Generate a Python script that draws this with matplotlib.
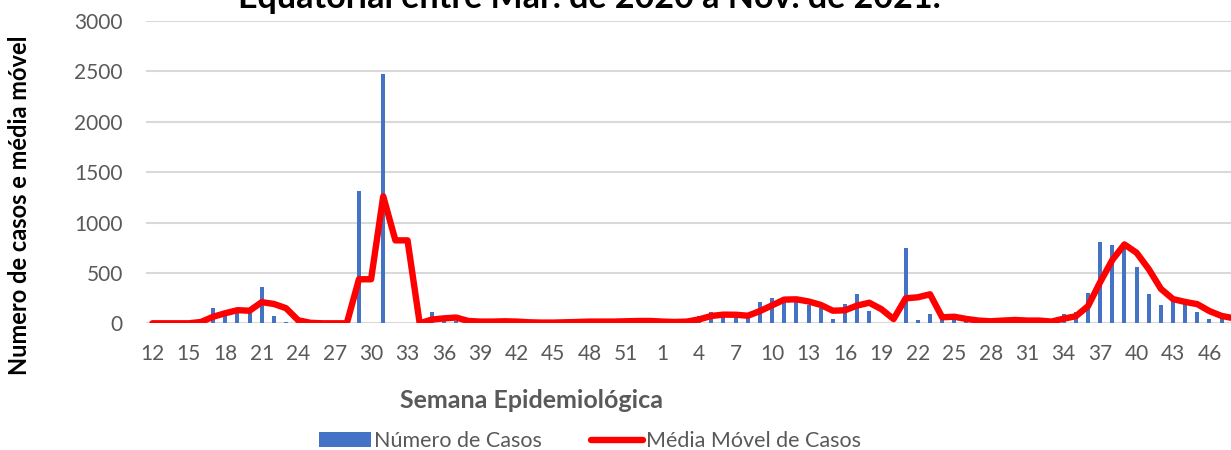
import numpy as np
import matplotlib
matplotlib.use('Agg')
import matplotlib.pyplot as plt
from matplotlib.patches import Patch
from matplotlib.lines import Line2D

plt.rcParams['font.family'] = ['Lato', 'DejaVu Sans']

# semanas epidemiologicas: 12-53 de 2020, 1-48 de 2021
semanas = list(range(12, 54)) + list(range(1, 49))

casos_2020 = [0, 0, 0, 0, 40, 156, 104, 130, 140, 360, 76, 15, 0, 0, 0, 0, 0,
              1310, 0, 2470, 0, 0, 0, 111, 35, 25, 10, 16, 25, 19, 7, 4, 10, 7,
              13, 19, 19, 13, 19, 28, 22, 19]
casos_2021 = [10, 10, 31, 77, 110, 70, 75, 80, 207, 247, 252, 216, 183, 150, 43,
              193, 293, 127, 0, 0, 743, 30, 90, 60, 45, 24, 12, 24, 45, 30, 6, 45,
              0, 93, 117, 300, 807, 777, 765, 557, 293, 177, 250, 210, 110, 43, 67, 40]

media_2020 = [0, 0, 0, 0, 13, 65, 100, 130, 125, 210, 192, 150, 30, 5, 0, 0, 0,
              437, 437, 1260, 823, 823, 0, 37, 49, 57, 23, 17, 17, 20, 17, 10, 7, 7,
              10, 13, 17, 17, 17, 20, 23, 23]
media_2021 = [17, 13, 17, 39, 73, 86, 85, 75, 121, 178, 235, 238, 217, 183, 125,
              129, 176, 204, 140, 42, 248, 258, 288, 60, 65, 43, 27, 20, 27, 33, 27, 27,
              17, 46, 70, 170, 408, 628, 783, 700, 538, 342, 240, 212, 190, 121, 73, 50]

casos = casos_2020 + casos_2021
media = media_2020 + media_2021
x = np.arange(len(semanas))

W, H = 1231, 450
fig = plt.figure(figsize=(W / 100, H / 100), dpi=100)
ax = fig.add_axes([146.3 / W, 1 - 323.3 / H, 1 - 146.3 / W, (323.3 - 21) / H])

ax.bar(x, casos, width=0.33, color='#4472C4', zorder=2)
ax.plot(x, media, color='#FF0000', lw=4.6, solid_joinstyle='round',
        solid_capstyle='round', zorder=3)

ax.set_ylim(0, 3000)
ax.set_xlim(-0.5, 88.77)
ax.set_yticks(range(0, 3001, 500))
ax.set_xticks(x[::3])
ax.set_xticklabels([str(s) for s in semanas[::3]])
ax.grid(axis='y', color='#D9D9D9', lw=1.5, zorder=0)
ax.set_axisbelow(True)
for s in ax.spines.values():
    s.set_visible(False)
ax.tick_params(length=0, labelsize=15, labelcolor='#595959')
ax.tick_params(axis='y', pad=17)
ax.tick_params(axis='x', pad=15)

# titulo (cortado no topo da imagem)
fig.text(589 / W, 1 - 8 / H, 'Equatorial entre Mar. de 2020 a Nov. de 2021.',
         ha='center', va='baseline', fontsize=24.5, weight='bold', color='black')

fig.text(531 / W, 1 - 400 / H, 'Semana Epidemiológica', ha='center', va='center',
         fontsize=18, weight='bold', color='#595959')
fig.text(20 / W, 1 - 205 / H, 'Numero de casos e média móvel', ha='center',
         va='center', rotation=90, fontsize=17, weight='bold', color='black')

handles = [Patch(facecolor='#4472C4', edgecolor='none'),
           Line2D([0], [0], color='#FF0000', lw=4.6, solid_capstyle='round')]
fig.legend(handles, ['Número de Casos', 'Média Móvel de Casos'], loc='center',
           bbox_to_anchor=(590 / W, 1 - 441 / H), ncol=2, frameon=False,
           fontsize=15.5, labelcolor='#595959', handlelength=2.4, handleheight=0.65,
           handletextpad=0.15, columnspacing=2.3, borderpad=0)

fig.savefig('out.png', dpi=100)
